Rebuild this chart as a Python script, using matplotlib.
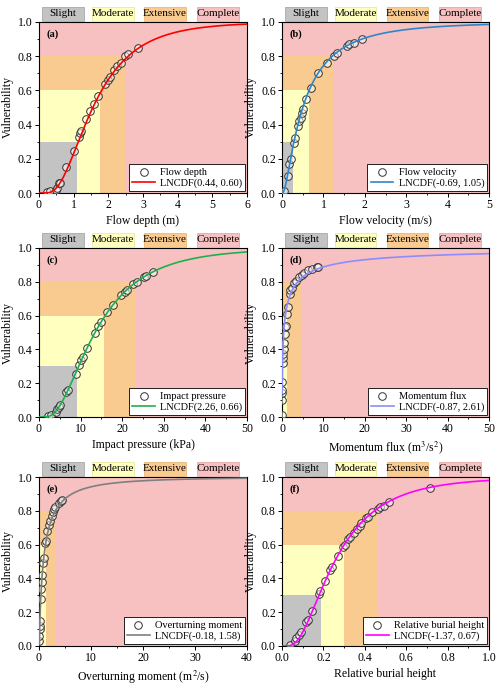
import math
import numpy as np
import matplotlib
matplotlib.use("Agg")
import matplotlib.pyplot as plt
from matplotlib.patches import Rectangle
from matplotlib.ticker import MultipleLocator

plt.rcParams["font.family"] = ["Liberation Serif", "DejaVu Serif"]
plt.rcParams["mathtext.fontset"] = "stix"

# ---- data ----
states = ["Slight", "Moderate", "Extensive", "Complete"]
state_colors = ["#C3C3C3", "#FFFFC0", "#F9CB91", "#F8C1C1"]
state_edges = ["#A8A8A8", "#E8E8A0", "#E8B878", "#E6A8A8"]
state_levels = [0.3, 0.6, 0.8]

a_x = [0.24, 0.31, 0.49, 0.53, 0.58, 0.62, 0.79, 1.00, 1.14, 1.17, 1.21, 1.37, 1.48,
       1.58, 1.71, 1.90, 1.98, 2.04, 2.17, 2.25, 2.36, 2.49, 2.57, 2.87]
a_y = [0.004, 0.01, 0.02, 0.03, 0.057, 0.06, 0.15, 0.245, 0.33, 0.35, 0.36, 0.43, 0.48,
       0.52, 0.57, 0.64, 0.66, 0.68, 0.72, 0.74, 0.76, 0.80, 0.81, 0.85]
a_thr = [1.10, 1.77, 2.48]

b_x = [0.04, 0.14, 0.18, 0.22, 0.29, 0.32, 0.38, 0.42, 0.45, 0.48, 0.50, 0.58, 0.69,
       0.86, 1.08, 1.25, 1.34, 1.57, 1.62, 1.74, 1.93]
b_y = [0.01, 0.10, 0.17, 0.20, 0.29, 0.32, 0.39, 0.42, 0.44, 0.47, 0.49, 0.55, 0.615,
       0.70, 0.76, 0.80, 0.82, 0.86, 0.87, 0.88, 0.90]
b_thr = [0.26, 0.66, 1.24]

c_x = [2.05, 3.0, 4.0, 4.4, 4.8, 5.1, 6.6, 7.0, 8.8, 9.7, 10.2, 10.5, 11.6, 13.5, 14.2,
       15.0, 16.4, 17.9, 19.8, 20.6, 21.2, 22.7, 23.5, 25.3, 25.7, 27.3]
c_y = [0.004, 0.01, 0.03, 0.045, 0.06, 0.07, 0.15, 0.16, 0.255, 0.31, 0.34, 0.355, 0.41,
       0.50, 0.54, 0.56, 0.62, 0.665, 0.72, 0.74, 0.75, 0.785, 0.80, 0.83, 0.835, 0.86]
c_thr = [9.2, 15.7, 23.3]

d_x = [0.01, 0.02, 0.04, 0.05, 0.08, 0.22, 0.27, 0.31, 0.37, 0.48, 0.63, 0.79, 0.85,
       1.15, 1.35, 1.85, 2.05, 2.42, 2.99, 3.39, 4.2, 4.77, 5.33, 6.3, 7.27, 8.4, 8.8]
d_y = [0.01, 0.10, 0.14, 0.16, 0.205, 0.32, 0.35, 0.37, 0.40, 0.44, 0.49, 0.53, 0.54,
       0.61, 0.65, 0.725, 0.75, 0.765, 0.79, 0.805, 0.83, 0.84, 0.85, 0.87, 0.875, 0.885, 0.885]
d_thr = [0.11, 1.2, 4.7]

e_x = [0.05, 0.08, 0.11, 0.13, 0.16, 0.33, 0.42, 0.52, 0.62, 0.80, 0.88, 1.20, 1.28,
       1.62, 1.94, 2.13, 2.46, 2.78, 2.97, 3.17, 3.88, 4.2, 4.46]
e_y = [0.03, 0.06, 0.10, 0.12, 0.15, 0.28, 0.34, 0.38, 0.42, 0.49, 0.52, 0.61, 0.62,
       0.68, 0.715, 0.74, 0.77, 0.79, 0.81, 0.82, 0.845, 0.86, 0.865]
e_thr = [0.36, 1.25, 3.16]

f_x = [0.039, 0.062, 0.068, 0.080, 0.093, 0.117, 0.125, 0.147, 0.178, 0.182, 0.208,
       0.231, 0.241, 0.269, 0.293, 0.303, 0.319, 0.329, 0.347, 0.362, 0.375, 0.381,
       0.407, 0.414, 0.436, 0.463, 0.472, 0.492, 0.518, 0.717]
f_y = [0.008, 0.03, 0.045, 0.063, 0.083, 0.14, 0.155, 0.205, 0.31, 0.325, 0.385,
       0.45, 0.47, 0.53, 0.585, 0.60, 0.635, 0.645, 0.67, 0.69, 0.71, 0.725,
       0.755, 0.765, 0.79, 0.81, 0.82, 0.83, 0.85, 0.935]
f_thr = [0.19, 0.30, 0.464]

# fitted lognormal curves (mu, sigma) as drawn in each panel
panels = [
    dict(tag="(a)", x=a_x, y=a_y, thr=a_thr, mu=0.44, sig=0.60, xmax=6, major=1, minor=0.5,
         name="Flow depth", fit="LNCDF(0.44, 0.60)", color="#FF0000", xlabel="Flow depth (m)"),
    dict(tag="(b)", x=b_x, y=b_y, thr=b_thr, mu=-0.69, sig=1.05, xmax=5, major=1, minor=0.5,
         name="Flow velocity", fit="LNCDF(-0.69, 1.05)", color="#2E86C8", xlabel="Flow velocity (m/s)"),
    dict(tag="(c)", x=c_x, y=c_y, thr=c_thr, mu=2.60, sig=0.66, xmax=50, major=10, minor=5,
         name="Impact pressure", fit="LNCDF(2.26, 0.66)", color="#1DB04F", xlabel="Impact pressure (kPa)"),
    dict(tag="(d)", x=d_x, y=d_y, thr=d_thr, mu=-0.87, sig=2.61, xmax=50, major=10, minor=5,
         name="Momentum flux", fit="LNCDF(-0.87, 2.61)", color="#8C8CFF",
         xlabel="Momentum flux (m$^3$/s$^2$)"),
    dict(tag="(e)", x=e_x, y=e_y, thr=e_thr, mu=-0.18, sig=1.58, xmax=40, major=10, minor=5,
         name="Overturning moment", fit="LNCDF(-0.18, 1.58)", color="#7F7F7F",
         xlabel="Overturning moment (m$^2$/s)"),
    dict(tag="(f)", x=f_x, y=f_y, thr=f_thr, mu=-1.37, sig=0.67, xmax=1.0, major=0.2, minor=0.1,
         name="Relative burial height", fit="LNCDF(-1.37, 0.67)", color="#FF00FF",
         xlabel="Relative burial height"),
]


def lncdf(x, mu, sig):
    return np.array([0.5 * (1 + math.erf((math.log(v) - mu) / (sig * math.sqrt(2)))) for v in x])


fig = plt.figure(figsize=(5.0, 6.87), dpi=100)
W, H = 500.0, 687.0
cols = [(39, 247), (282, 489)]
rows = [(22, 193), (248, 417), (477, 646)]

for i, p in enumerate(panels):
    (l, r), (t, b) = cols[i % 2], rows[i // 2]
    ax = fig.add_axes([l / W, 1 - b / H, (r - l) / W, (b - t) / H])
    xmax = p["xmax"]
    # damage state regions
    ax.add_patch(Rectangle((0, 0), xmax, 1, color=state_colors[3], lw=0, zorder=0))
    for k in (2, 1, 0):
        ax.add_patch(Rectangle((0, 0), p["thr"][k], state_levels[k], color=state_colors[k],
                               lw=0, zorder=0.5 + (2 - k) * 0.1))
    ax.scatter(p["x"], p["y"], s=30, marker="o", facecolors=(1, 1, 1, 0.5),
               edgecolors="#333333", linewidths=0.7, zorder=3, label=p["name"])
    xs = np.linspace(xmax / 2000, xmax, 600)
    ax.plot(xs, lncdf(xs, p["mu"], p["sig"]), color=p["color"], lw=1.2, zorder=4, label=p["fit"])

    ax.set_xlim(0, xmax)
    ax.set_ylim(0, 1)
    ax.xaxis.set_major_locator(MultipleLocator(p["major"]))
    ax.xaxis.set_minor_locator(MultipleLocator(p["minor"]))
    ax.yaxis.set_major_locator(MultipleLocator(0.2))
    ax.yaxis.set_minor_locator(MultipleLocator(0.1))
    if p["major"] < 1:
        ax.xaxis.set_major_formatter(plt.FuncFormatter(lambda v, _: f"{v:.1f}"))
    ax.yaxis.set_major_formatter(plt.FuncFormatter(lambda v, _: f"{v:.1f}"))
    ax.tick_params(which="major", direction="out", length=3, width=0.7, labelsize=8.5, pad=1.5)
    ax.tick_params(which="minor", direction="out", length=1.6, width=0.6)
    for sp in ax.spines.values():
        sp.set_linewidth(0.8)
    ax.set_xlabel(p["xlabel"], fontsize=8.5, labelpad=3)
    ax.set_ylabel("Vulnerability", fontsize=8.5, labelpad=3)
    ax.text(0.035, 0.93, p["tag"], transform=ax.transAxes, fontsize=7.5,
            fontweight="bold", va="center", ha="left", zorder=6)

    leg = ax.legend(loc="lower right", fontsize=7.5, frameon=True, fancybox=False,
                    edgecolor="black", framealpha=1, borderaxespad=0.15, handlelength=2.2,
                    handletextpad=0.5, borderpad=0.3, labelspacing=0.2)
    leg.get_frame().set_linewidth(0.6)
    leg.set_zorder(7)

    # damage state label boxes above the axes
    centers = [0.115, 0.355, 0.605, 0.86]
    for k, name in enumerate(states):
        ax.add_patch(Rectangle((centers[k] - 0.1, 1.006), 0.2, 0.083, transform=ax.transAxes,
                               facecolor=state_colors[k], edgecolor=state_edges[k], lw=0.6,
                               clip_on=False, zorder=5))
        ax.text(centers[k], 1.006 + 0.0415, name, transform=ax.transAxes, fontsize=8,
                ha="center", va="center", zorder=6, clip_on=False)

fig.savefig("out.png", dpi=100)
